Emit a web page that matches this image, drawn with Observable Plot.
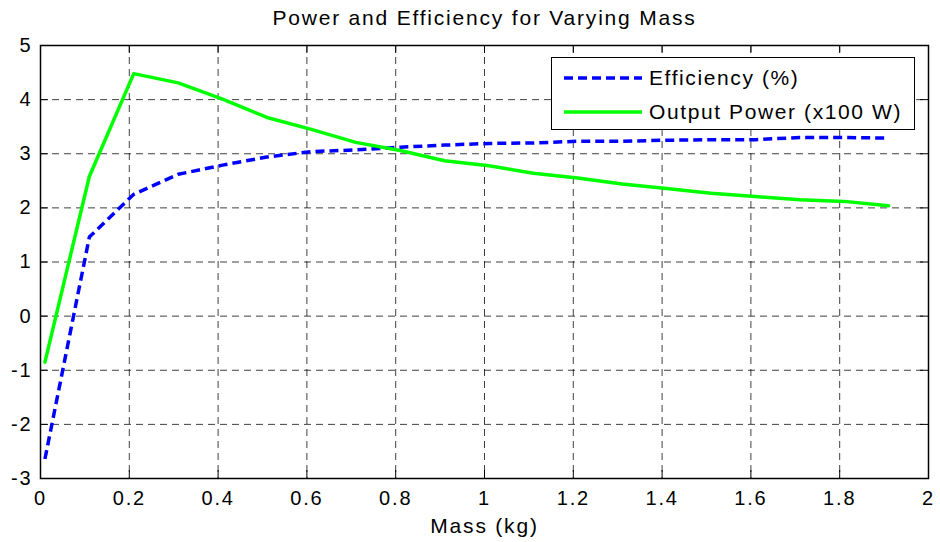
<!DOCTYPE html>
<html>
<head>
<meta charset="utf-8">
<script src="https://cdn.jsdelivr.net/npm/d3@7"></script>
<script src="https://cdn.jsdelivr.net/npm/@observablehq/plot@0.6"></script>
<style>
  html, body { margin: 0; padding: 0; background: #fff; }
  #wrap { position: relative; width: 940px; height: 542px; font-family: "Liberation Sans", Arial, sans-serif; }
  #chart svg text { letter-spacing: 1.8px; }
  #legend {
    position: absolute; left: 551px; top: 57px; width: 364px; height: 73px;
    border: 1.5px solid #000; background: #fff; box-sizing: border-box;
  }
  #legend .row { position: absolute; left: 12px; height: 30px; display: flex; align-items: center; }
  #legend .row span { font-size: 21px; letter-spacing: 1.6px; color: #000; margin-left: 7px; white-space: nowrap; }
</style>
</head>
<body>
<div id="wrap">
  <div id="chart"></div>
  <div id="legend"></div>
</div>
<script>
const mass = [0.01, 0.11, 0.21, 0.31, 0.41, 0.51, 0.61, 0.71, 0.81, 0.91, 1.01, 1.11, 1.21, 1.31, 1.41, 1.51, 1.61, 1.71, 1.81, 1.91];
const efficiency = [-2.64, 1.46, 2.25, 2.62, 2.79, 2.94, 3.04, 3.07, 3.12, 3.16, 3.19, 3.20, 3.23, 3.23, 3.25, 3.26, 3.26, 3.30, 3.30, 3.29];
const outputPower = [-0.85, 2.58, 4.48, 4.31, 4.01, 3.67, 3.45, 3.21, 3.06, 2.87, 2.78, 2.64, 2.55, 2.44, 2.36, 2.27, 2.21, 2.15, 2.12, 2.04];
const xTicks = [0, 0.2, 0.4, 0.6, 0.8, 1, 1.2, 1.4, 1.6, 1.8, 2];
const yTicks = [-3, -2, -1, 0, 1, 2, 3, 4, 5];
const seriesNames = ["Efficiency (%)", "Output Power (x100 W)"];
const titleText = "Power and Efficiency for Varying Mass";
const xLabel = "Mass (kg)";

const effData = mass.map((m, i) => ({mass: m, value: efficiency[i]}));
const powData = mass.map((m, i) => ({mass: m, value: outputPower[i]}));

const W = 940, H = 542, mL = 40, mR = 12, mT = 45, mB = 64;
const plotW = W - mL - mR, plotH = H - mT - mB, tickLen = 8;
const blue = "#0000ff", green = "#00ff00";

const chart = Plot.plot({
  width: W, height: H,
  marginLeft: mL, marginRight: mR, marginTop: mT, marginBottom: mB,
  style: {fontFamily: '"Liberation Sans", Arial, sans-serif', fontSize: "20px", color: "#000", background: "#fff"},
  x: {domain: [0, 2]},
  y: {domain: [-3, 5]},
  marks: [
    Plot.gridX(xTicks, {stroke: "#000", strokeOpacity: 0.75, strokeWidth: 1, strokeDasharray: "7,5"}),
    Plot.gridY(yTicks, {stroke: "#000", strokeOpacity: 0.75, strokeWidth: 1, strokeDasharray: "7,5"}),
    Plot.ruleX(xTicks, {stroke: "#000", strokeWidth: 1, insetTop: plotH - tickLen}),
    Plot.ruleX(xTicks, {stroke: "#000", strokeWidth: 1, insetBottom: plotH - tickLen}),
    Plot.ruleY(yTicks, {stroke: "#000", strokeWidth: 1, insetRight: plotW - tickLen}),
    Plot.ruleY(yTicks, {stroke: "#000", strokeWidth: 1, insetLeft: plotW - tickLen}),
    Plot.axisX(xTicks, {anchor: "bottom", tickSize: 0, tickPadding: 12, tickFormat: d => String(d), label: null, fontSize: 20}),
    Plot.axisY(yTicks, {anchor: "left", tickSize: 0, tickPadding: 8, tickFormat: d => String(d), label: null, fontSize: 20}),
    Plot.line(effData, {x: "mass", y: "value", stroke: blue, strokeWidth: 3.5, strokeDasharray: "9,5", strokeLinecap: "butt", strokeLinejoin: "round"}),
    Plot.line(powData, {x: "mass", y: "value", stroke: green, strokeWidth: 3.5, strokeLinejoin: "round"}),
    Plot.frame({stroke: "#000", strokeWidth: 1.5}),
    Plot.text([titleText], {frameAnchor: "top", dy: -27, fontSize: 21, textAnchor: "middle", lineAnchor: "middle", fill: "#000"}),
    Plot.text([xLabel], {frameAnchor: "bottom", dy: 48, fontSize: 21, textAnchor: "middle", lineAnchor: "middle", fill: "#000"})
  ]
});
document.getElementById("chart").appendChild(chart);

// Legend
const legend = document.getElementById("legend");
const styles = [
  {color: blue, dash: "9,5"},
  {color: green, dash: null}
];
seriesNames.forEach((name, i) => {
  const row = document.createElement("div");
  row.className = "row";
  row.style.top = (5 + i * 33.5) + "px";
  const ns = "http://www.w3.org/2000/svg";
  const svg = document.createElementNS(ns, "svg");
  svg.setAttribute("width", 78); svg.setAttribute("height", 10);
  const ln = document.createElementNS(ns, "line");
  ln.setAttribute("x1", 0); ln.setAttribute("x2", 78);
  ln.setAttribute("y1", 5); ln.setAttribute("y2", 5);
  ln.setAttribute("stroke", styles[i].color);
  ln.setAttribute("stroke-width", 3.5);
  if (styles[i].dash) ln.setAttribute("stroke-dasharray", styles[i].dash);
  svg.appendChild(ln);
  const span = document.createElement("span");
  span.textContent = name;
  row.appendChild(svg); row.appendChild(span);
  legend.appendChild(row);
});
</script>
</body>
</html>
